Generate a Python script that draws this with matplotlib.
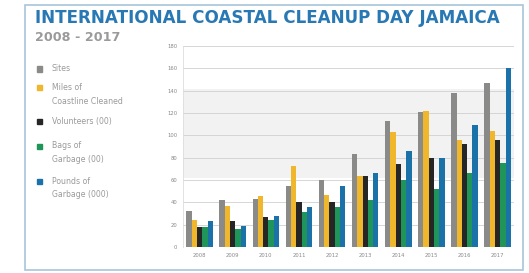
import numpy as np
import matplotlib
matplotlib.use('Agg')
import matplotlib.pyplot as plt
from matplotlib.patches import Rectangle

# 数据：2008-2017 国际海岸清洁日（牙买加）
years = ['2008', '2009', '2010', '2011', '2012', '2013', '2014', '2015', '2016', '2017']
sites = [32, 42, 43, 55, 60, 83, 113, 121, 138, 147]
miles = [24, 37, 46, 73, 47, 64, 103, 122, 96, 104]
volunteers = [18, 23, 27, 40, 40, 64, 74, 80, 92, 96]
bags = [18, 16, 24, 31, 36, 42, 60, 52, 66, 75]
pounds = [23, 19, 28, 36, 55, 66, 86, 80, 109, 160]

series = [
    ('Sites', sites, '#8a8a88'),
    ('Miles of\nCoastline Cleaned', miles, '#f0b62c'),
    ('Volunteers (00)', volunteers, '#262626'),
    ('Bags of\nGarbage (00)', bags, '#1f955a'),
    ('Pounds of\nGarbage (000)', pounds, '#1b72a8'),
]

fig = plt.figure(figsize=(5.29, 2.73), dpi=100)
ax = fig.add_axes([0.346, 0.095, 0.626, 0.736])

# 外框
fig.patches.append(Rectangle((0.047, 0.012), 0.942, 0.97, transform=fig.transFigure,
                             fill=False, edgecolor='#a8c6da', linewidth=1.2))

x = np.arange(len(years))
w = 0.16
for i, (name, vals, col) in enumerate(series):
    ax.bar(x + (i - 2) * w, vals, width=w, color=col, label=name, zorder=3)

# 背景淡灰色地图区域（近似）
ax.axhspan(62, 142, color='#f2f2f2', zorder=0, linewidth=0)

ax.set_ylim(0, 180)
ax.set_xlim(-0.5, 9.5)
ax.set_yticks(range(0, 181, 20))
ax.set_xticks(x)
ax.set_xticklabels(years)
ax.tick_params(axis='both', labelsize=3.8, colors='#888888', length=0, pad=4)
ax.grid(axis='y', color='#d0d0d0', linewidth=0.6, zorder=1)
for s in ax.spines.values():
    s.set_visible(False)
ax.spines['left'].set_visible(True)
ax.spines['left'].set_color('#dddddd')
ax.spines['left'].set_linewidth(0.6)

fig.text(0.066, 0.9, 'INTERNATIONAL COASTAL CLEANUP DAY JAMAICA', fontsize=12.1,
         fontweight='bold', color='#2878b4', va='bottom')
fig.text(0.066, 0.84, '2008 - 2017', fontsize=9.2, color='#9a9a9a', va='bottom', fontweight='bold')

# 图例（手动排列，标记与首行对齐）
leg_y = [69, 88, 122, 146, 181]   # 像素位置（自上而下）
for (name, vals, col), py in zip(series, leg_y):
    yf = 1 - py / 273
    fig.patches.append(Rectangle((37 / 529, yf - 2.5 / 273), 5 / 529, 5 / 273,
                                 transform=fig.transFigure, color=col))
    fig.text(52 / 529, yf + 4.5 / 273, name, fontsize=5.6, color='#9a9a9a', va='top',
             ha='left', linespacing=1.65, transform=fig.transFigure)

plt.savefig('out.png', dpi=100)
